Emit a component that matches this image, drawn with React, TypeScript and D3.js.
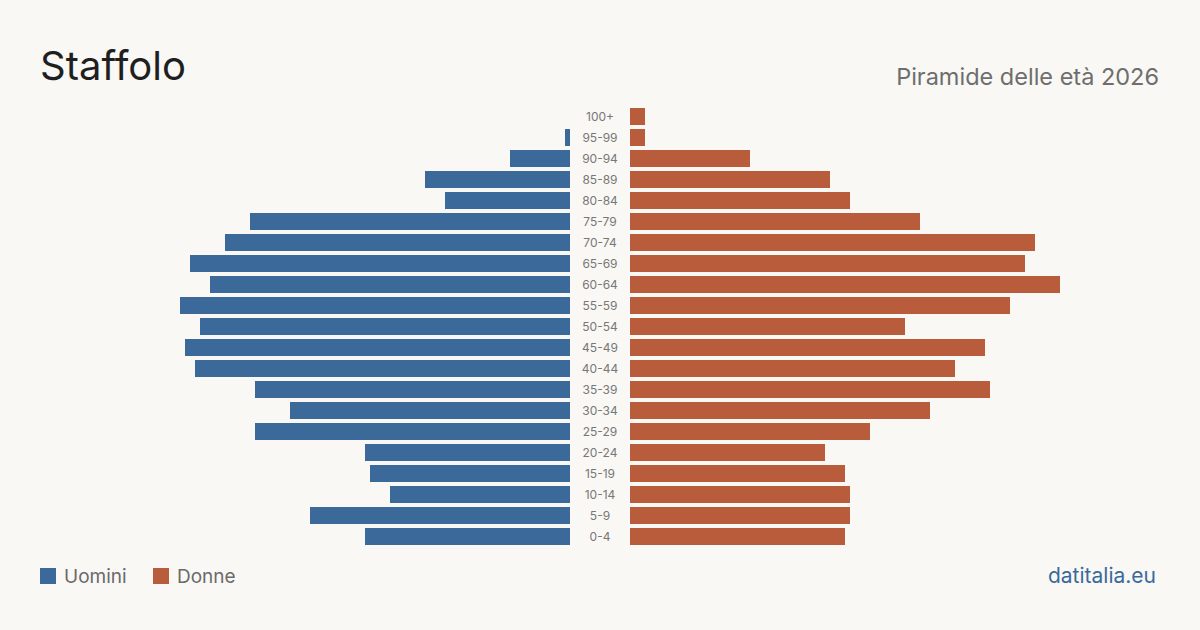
import React from "react";
import * as d3 from "d3";

const ageGroups = ["100+","95-99","90-94","85-89","80-84","75-79","70-74","65-69","60-64","55-59","50-54","45-49","40-44","35-39","30-34","25-29","20-24","15-19","10-14","5-9","0-4"];
const men = [0,1,12,29,25,64,69,76,72,78,74,77,75,63,56,63,41,40,36,52,41];
const women = [3,3,24,40,44,58,81,79,86,76,55,71,65,72,60,48,39,43,44,44,43];
const legendLabels = ["Uomini","Donne"];

const W = 1200, H = 630;
const BLUE = "#3b6a9a", ORANGE = "#b95c3c";
const FONT = "Inter, 'Noto Sans', sans-serif";

export default function App() {
  const y = d3.scaleBand<string>().domain(ageGroups).range([106, 547]).paddingInner(4 / 21).paddingOuter(2 / 21);
  const maxV = d3.max([...men, ...women]) as number;
  const xL = d3.scaleLinear().domain([0, maxV]).range([570, 140]);
  const xR = d3.scaleLinear().domain([0, maxV]).range([630, 1060]);
  const bw = y.bandwidth();
  return (
    <svg width={W} height={H} style={{ display: "block", position: "absolute", left: 0, top: 0 }} fontFamily={FONT}>
      <rect width={W} height={H} fill="#f9f8f4" />
      <text x={40} y={80} fontSize={40} fill="#1f1f1f">Staffolo</text>
      <text x={1159} y={85} fontSize={23.5} fill="#6e6e6e" textAnchor="end">Piramide delle età 2026</text>
      {ageGroups.map((g, i) => (
        <g key={g}>
          {men[i] > 0 && <rect x={xL(men[i])} y={y(g)} width={xL(0) - xL(men[i])} height={bw} fill={BLUE} />}
          {women[i] > 0 && <rect x={xR(0)} y={y(g)} width={xR(women[i]) - xR(0)} height={bw} fill={ORANGE} />}
          <text x={600} y={(y(g) as number) + bw / 2} dy="0.35em" fontSize={12} fill="#777" textAnchor="middle">{g}</text>
        </g>
      ))}
      <rect x={40} y={568} width={16} height={16} fill={BLUE} />
      <text x={64} y={583} fontSize={19} fill="#6a6a6a">{legendLabels[0]}</text>
      <rect x={153} y={568} width={16} height={16} fill={ORANGE} />
      <text x={177} y={583} fontSize={19} fill="#6a6a6a">{legendLabels[1]}</text>
      <text x={1156} y={583} fontSize={21} fill="#3b6a9a" textAnchor="end">datitalia.eu</text>
    </svg>
  );
}
